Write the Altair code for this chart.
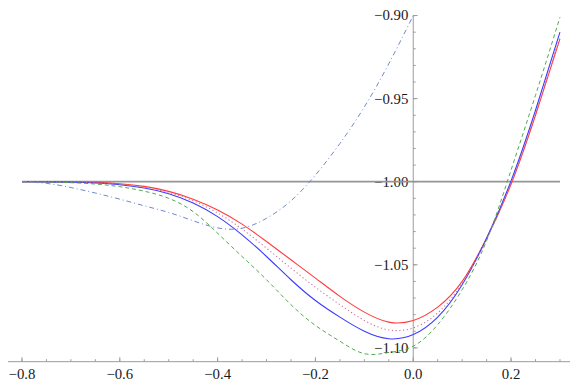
import altair as alt
import pandas as pd

# ---------------- data ----------------
x_vals = [-0.80, -0.75, -0.70, -0.65, -0.60, -0.55, -0.50, -0.45, -0.40, -0.35, -0.30, -0.25,
          -0.20, -0.15, -0.10, -0.05, 0.00, 0.05, 0.10, 0.15, 0.20, 0.25, 0.30]

red = [-1.0000, -1.0000, -1.0001, -1.0004, -1.0012, -1.0028, -1.0058, -1.0105, -1.0170, -1.0255,
       -1.0360, -1.0470, -1.0580, -1.0690, -1.0785, -1.0845, -1.0835, -1.0755, -1.0600, -1.0340,
       -1.0015, -0.9600, -0.9140]
pink = [-1.0000, -1.0000, -1.0002, -1.0006, -1.0015, -1.0033, -1.0064, -1.0115, -1.0188, -1.0285,
        -1.0400, -1.0520, -1.0635, -1.0740, -1.0835, -1.0892, -1.0880, -1.0790, -1.0612, -1.0345,
        -1.0010, -0.9590, -0.9125]
blue = [-1.0000, -1.0001, -1.0003, -1.0008, -1.0018, -1.0038, -1.0072, -1.0128, -1.0210, -1.0320,
        -1.0450, -1.0590, -1.0715, -1.0815, -1.0900, -1.0945, -1.0920, -1.0815, -1.0620, -1.0340,
        -0.9995, -0.9570, -0.9100]
green = [-1.0000, -1.0002, -1.0006, -1.0014, -1.0030, -1.0057, -1.0100, -1.0180, -1.0310, -1.0450,
         -1.0590, -1.0740, -1.0865, -1.0960, -1.1035, -1.1028, -1.0990, -1.0860, -1.0650, -1.0355,
         -0.9930, -0.9480, -0.9010]
dashdot_x = [-0.80, -0.75, -0.70, -0.65, -0.60, -0.55, -0.50, -0.45, -0.40, -0.35, -0.30, -0.25,
             -0.20, -0.15, -0.10, -0.05, 0.00]
dashdot = [-1.0000, -1.0010, -1.0035, -1.0068, -1.0105, -1.0145, -1.0185, -1.0235, -1.0278, -1.0280,
           -1.0220, -1.0115, -0.9960, -0.9770, -0.9550, -0.9290, -0.9000]
const_x = [-0.80, 0.30]
const_y = [-1.0, -1.0]

x_major = [-0.8, -0.6, -0.4, -0.2, 0.0, 0.2]
x_major_labels = ["\u22120.8", "\u22120.6", "\u22120.4", "\u22120.2", "0.0", "0.2"]
x_minor = [-0.80, -0.75, -0.70, -0.65, -0.60, -0.55, -0.50, -0.45, -0.40, -0.35, -0.30, -0.25,
           -0.20, -0.15, -0.10, -0.05, 0.00, 0.05, 0.10, 0.15, 0.20, 0.25, 0.30]
y_major = [-1.10, -1.05, -1.00, -0.95, -0.90]
y_major_labels = ["\u22121.10", "\u22121.05", "\u22121.00", "\u22120.95", "\u22120.90"]
y_minor = [-1.10, -1.09, -1.08, -1.07, -1.06, -1.05, -1.04, -1.03, -1.02, -1.01, -1.00,
           -0.99, -0.98, -0.97, -0.96, -0.95, -0.94, -0.93, -0.92, -0.91, -0.90]

XMIN, XMAX = -0.8286, 0.3206
YMIN, YMAX = -1.1083, -0.9000

FONT = "Liberation Serif"

xs = alt.Scale(domain=[XMIN, XMAX], nice=False, zero=False)
ys = alt.Scale(domain=[YMIN, YMAX], nice=False, zero=False)


def X(f):
    return alt.X(f, type="quantitative", scale=xs, axis=None)


def Y(f):
    return alt.Y(f, type="quantitative", scale=ys, axis=None)


def curve(xv, yv, color, width=1.0, dash=None):
    df = pd.DataFrame({"x": xv, "y": yv})
    kw = dict(color=color, strokeWidth=width, interpolate="natural")
    if dash:
        kw["strokeDash"] = dash
    return alt.Chart(df).mark_line(**kw).encode(x=X("x"), y=Y("y"))


axis_color = "#9a9a9a"

# axis frame lines (x axis along the bottom of the range, y axis through x = 0)
xline_df = pd.DataFrame({"x": [XMIN], "x2": [XMAX], "y": [YMIN]})
yline_df = pd.DataFrame({"x": [0.0], "y": [YMIN], "y2": [YMAX]})
x_axis_line = alt.Chart(xline_df).mark_rule(color=axis_color, strokeWidth=1).encode(
    x=X("x"), x2="x2:Q", y=Y("y"))
y_axis_line = alt.Chart(yline_df).mark_rule(color=axis_color, strokeWidth=1).encode(
    x=X("x"), y=Y("y"), y2="y2:Q")

xmin_df = pd.DataFrame({"x": x_minor, "y": [YMIN] * len(x_minor)})
xmaj_df = pd.DataFrame({"x": x_major, "y": [YMIN] * len(x_major), "label": x_major_labels})
ymin_df = pd.DataFrame({"y": y_minor, "x": [0.0] * len(y_minor)})
ymaj_df = pd.DataFrame({"y": y_major, "x": [0.0] * len(y_major), "label": y_major_labels})

x_minor_ticks = alt.Chart(xmin_df).mark_rule(color=axis_color, y2Offset=-2.5).encode(
    x=X("x"), y=Y("y"), y2="y:Q")
x_major_ticks = alt.Chart(xmaj_df).mark_rule(color=axis_color, y2Offset=-4.5).encode(
    x=X("x"), y=Y("y"), y2="y:Q")
x_labels = alt.Chart(xmaj_df).mark_text(
    font=FONT, fontSize=15, color="#1a1a1a", dy=18, baseline="alphabetic",
    align="center").encode(x=X("x"), y=Y("y"), text="label:N")

y_minor_ticks = alt.Chart(ymin_df).mark_rule(color=axis_color, x2Offset=2.5).encode(
    y=Y("y"), x=X("x"), x2="x:Q")
y_major_ticks = alt.Chart(ymaj_df).mark_rule(color=axis_color, x2Offset=4.5).encode(
    y=Y("y"), x=X("x"), x2="x:Q")
y_labels = alt.Chart(ymaj_df).mark_text(
    font=FONT, fontSize=15, color="#1a1a1a", dx=-5, baseline="middle",
    align="right").encode(y=Y("y"), x=X("x"), text="label:N")

layers = [
    x_axis_line, y_axis_line, x_minor_ticks, x_major_ticks, y_minor_ticks, y_major_ticks,
    x_labels, y_labels,
    curve(const_x, const_y, "#959595", 1.8),
    curve(x_vals, red, "#ff3b3b", 1.1),
    curve(x_vals, blue, "#3b3bff", 1.1),
    curve(x_vals, pink, "#c86e96", 1.1, [1.2, 2.6]),
    curve(x_vals, green, "#4fa84f", 1.0, [4, 3]),
    curve(dashdot_x, dashdot, "#6f86c9", 1.0, [5, 3, 1, 3]),
]

chart = alt.layer(*layers).properties(
    width=570, height=351,
    autosize=alt.AutoSizeParams(type="none"),
    padding={"left": 0, "top": 5, "right": 3, "bottom": 21},
).configure_view(stroke=None)

chart.save("out.html", embed_options={"renderer": "svg", "actions": False})
